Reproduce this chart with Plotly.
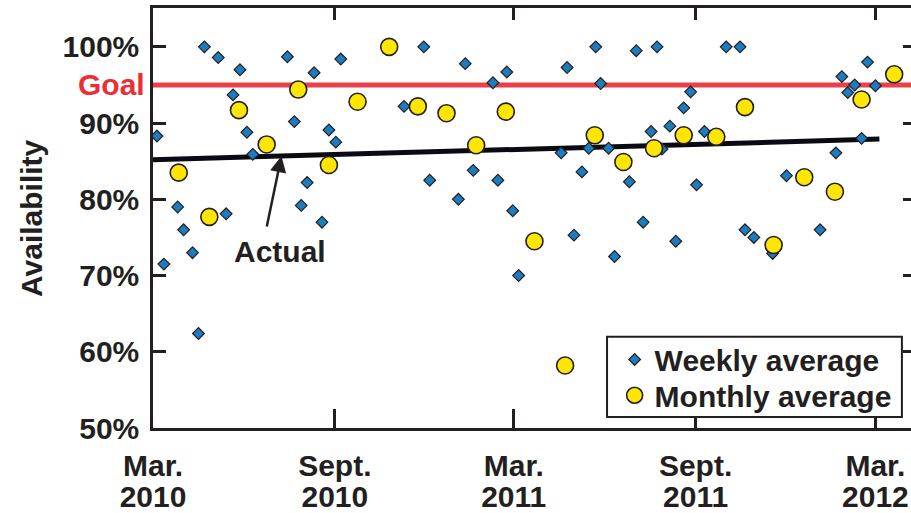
import plotly.graph_objects as go

# ---------------- data ----------------
weekly_dates = [
    "2010-03-05", "2010-03-12", "2010-03-26", "2010-04-01", "2010-04-10", "2010-04-16",
    "2010-04-22", "2010-05-06", "2010-05-14", "2010-05-21", "2010-05-28", "2010-06-04",
    "2010-06-10", "2010-07-15", "2010-07-22", "2010-07-29", "2010-08-04", "2010-08-11",
    "2010-08-19", "2010-08-26", "2010-09-02", "2010-09-07", "2010-11-10", "2010-11-30",
    "2010-12-06", "2011-01-04", "2011-01-11", "2011-01-19", "2011-02-08", "2011-02-13",
    "2011-02-22", "2011-02-28", "2011-03-06", "2011-04-18", "2011-04-24", "2011-05-01",
    "2011-05-09", "2011-05-16", "2011-05-23", "2011-05-28", "2011-06-05", "2011-06-11",
    "2011-06-26", "2011-07-03", "2011-07-10", "2011-07-18", "2011-07-24", "2011-07-29",
    "2011-08-06", "2011-08-12", "2011-08-20", "2011-08-27", "2011-09-02", "2011-09-10",
    "2011-10-02", "2011-10-16", "2011-10-21", "2011-10-30", "2011-11-18", "2011-12-02",
    "2012-01-05", "2012-01-21", "2012-01-27", "2012-02-02", "2012-02-09", "2012-02-16",
    "2012-02-22", "2012-03-01",
]
weekly_values = [
    88.3, 71.5, 79.0, 76.0, 73.0, 62.4,
    100.0, 98.6, 78.1, 93.7, 97.0, 88.8,
    85.9, 98.7, 90.2, 79.2, 82.2, 96.6,
    77.0, 89.1, 87.5, 98.4, 92.2, 100.0,
    82.5, 80.0, 97.8, 83.8, 95.3, 82.5,
    96.7, 78.5, 70.0, 86.1, 97.3, 75.3,
    83.6, 86.7, 100.0, 95.2, 86.7, 72.5,
    82.3, 99.5, 77.0, 88.9, 100.0, 86.6,
    89.6, 74.5, 92.0, 94.1, 81.9, 88.9,
    100.0, 100.0, 76.0, 75.0, 72.9, 83.1,
    76.0, 86.1, 96.1, 94.0, 95.0, 88.0,
    98.0, 94.9,
]

monthly_dates = [
    "2010-03-27", "2010-04-27", "2010-05-27", "2010-06-24", "2010-07-26", "2010-08-26",
    "2010-09-24", "2010-10-26", "2010-11-24", "2010-12-23", "2011-01-22", "2011-02-21",
    "2011-03-22", "2011-04-22", "2011-05-22", "2011-06-20", "2011-07-21", "2011-08-20",
    "2011-09-22", "2011-10-21", "2011-11-19", "2011-12-20", "2012-01-20", "2012-02-16",
    "2012-03-20",
]
monthly_values = [
    83.5, 77.7, 91.7, 87.2, 94.4, 84.5,
    92.8, 100.0, 92.2, 91.3, 87.1, 91.5,
    74.5, 58.2, 88.4, 84.9, 86.7, 88.4,
    88.2, 92.1, 74.0, 82.9, 81.0, 93.1,
    96.4,
]

trend_dates = ["2010-03-01", "2012-03-05"]
trend_values = [85.2, 87.9]

goal_value = 95

tick_dates = ["2010-03-01", "2010-09-01", "2011-03-01", "2011-09-01", "2012-03-01"]
tick_months = ["Mar.", "Sept.", "Mar.", "Sept.", "Mar."]
tick_years = ["2010", "2010", "2011", "2011", "2012"]
y_ticks = [50, 60, 70, 80, 90, 100]
y_tick_labels = ["50%", "60%", "70%", "80%", "90%", "100%"]

x_range = ["2010-03-01", "2012-04-06"]
y_range = [50, 105.1]

# annotation anchors
actual_tip = ("2010-07-09", 85.68)
actual_text_pos = ("2010-07-07", 73.2)

# ---------------- styling ----------------
INK = "#231f20"
RED = "#ec2d35"
BLUE = "#1c7cc0"
YELLOW = "#ffe600"
FONT = "Liberation Sans, Arial, sans-serif"

fig = go.Figure()

fig.add_trace(go.Scatter(
    x=trend_dates, y=trend_values, mode="lines",
    line=dict(color="#0a0a12", width=5), showlegend=False, hoverinfo="skip",
))
fig.add_trace(go.Scatter(
    x=weekly_dates, y=weekly_values, mode="markers", name="Weekly average",
    marker=dict(symbol="diamond", size=9, color=BLUE, line=dict(color=INK, width=1.2)),
    legend="legend",
))
fig.add_trace(go.Scatter(
    x=monthly_dates, y=monthly_values, mode="markers", name="Monthly average",
    marker=dict(symbol="circle", size=17, color=YELLOW, line=dict(color=INK, width=1.6)),
    legend="legend2",
))
# empty helper traces so the overlay axes are drawn
fig.add_trace(go.Scatter(x=[], y=[], xaxis="x2", yaxis="y", showlegend=False))
fig.add_trace(go.Scatter(x=[], y=[], xaxis="x3", yaxis="y", showlegend=False))
fig.add_trace(go.Scatter(x=[], y=[], xaxis="x", yaxis="y2", showlegend=False))

# goal line
fig.add_shape(type="line", xref="paper", x0=0, x1=1, yref="y", y0=goal_value, y1=goal_value,
              line=dict(color="#e8414a", width=5), layer="below")
# legend frame
fig.add_shape(type="rect", xref="paper", yref="paper", x0=0.599, x1=0.988, y0=0.026, y1=0.217,
              line=dict(color=INK, width=2), fillcolor="white", layer="above")

tickfont = dict(family=FONT, size=30, color=INK, weight="bold")
legfont = dict(family=FONT, size=30, color=INK, weight="bold")

fig.update_layout(
    width=911, height=513,
    margin=dict(l=153, r=0, t=8, b=82),
    paper_bgcolor="white", plot_bgcolor="white",
    font=dict(family=FONT, color=INK),
    xaxis=dict(
        type="date", range=x_range, tickmode="array", tickvals=tick_dates, ticktext=tick_months,
        ticks="inside", ticklen=19, tickwidth=2.5, tickcolor=INK,
        showline=True, linewidth=2.5, linecolor=INK, mirror=False,
        showgrid=False, zeroline=False, tickfont=tickfont, ticklabelstandoff=9,
    ),
    xaxis2=dict(
        type="date", range=x_range, overlaying="x", matches="x", side="bottom", anchor="y",
        tickmode="array", tickvals=tick_dates, ticktext=tick_years,
        ticks="", showline=False, showgrid=False, zeroline=False,
        tickfont=tickfont, ticklabelstandoff=48,
    ),
    xaxis3=dict(
        type="date", range=x_range, overlaying="x", matches="x", side="top", anchor="y",
        tickmode="array", tickvals=tick_dates, showticklabels=False,
        ticks="inside", ticklen=12, tickwidth=2.5, tickcolor=INK,
        showline=True, linewidth=2.5, linecolor=INK, showgrid=False, zeroline=False,
    ),
    yaxis=dict(
        range=y_range, tickmode="array", tickvals=y_ticks, ticktext=y_tick_labels,
        ticks="inside", ticklen=13, tickwidth=2.5, tickcolor=INK,
        showline=True, linewidth=2.5, linecolor=INK, mirror=False,
        showgrid=False, zeroline=False, tickfont=tickfont, ticklabelstandoff=5,
    ),
    yaxis2=dict(
        range=y_range, overlaying="y", matches="y", side="right", anchor="x",
        tickmode="array", tickvals=y_ticks, showticklabels=False,
        ticks="inside", ticklen=8, tickwidth=2.5, tickcolor=INK,
        showline=False, showgrid=False, zeroline=False,
    ),
    legend=dict(
        x=0.609, y=0.163, xanchor="left", yanchor="middle",
        bgcolor="rgba(0,0,0,0)", borderwidth=0, font=legfont,
    ),
    legend2=dict(
        x=0.609, y=0.078, xanchor="left", yanchor="middle",
        bgcolor="rgba(0,0,0,0)", borderwidth=0, font=legfont,
    ),
    showlegend=True,
)

fig.add_annotation(
    text="Goal", xref="paper", x=0, xanchor="right", xshift=-6,
    yref="y", y=goal_value, yanchor="middle", showarrow=False,
    font=dict(family=FONT, size=30, color=RED, weight="bold"),
)
fig.add_annotation(
    text="Availability", textangle=-90, xref="paper", x=0, xanchor="center", xshift=-122,
    yref="paper", y=0.5, yanchor="middle", showarrow=False,
    font=dict(family=FONT, size=30, color=INK, weight="bold"),
)
fig.add_annotation(
    text="", x=actual_tip[0], y=actual_tip[1], xref="x", yref="y",
    showarrow=True, ax=-15, ay=72, arrowhead=2, arrowsize=1.3, arrowwidth=2.5, arrowcolor=INK,
)
fig.add_annotation(
    text="Actual", x=actual_text_pos[0], y=actual_text_pos[1], xref="x", yref="y",
    showarrow=False, font=dict(family=FONT, size=30, color=INK, weight="bold"),
)

fig.write_html("out.html", config={"displayModeBar": False},
               post_script="document.body.style.margin='0';")
